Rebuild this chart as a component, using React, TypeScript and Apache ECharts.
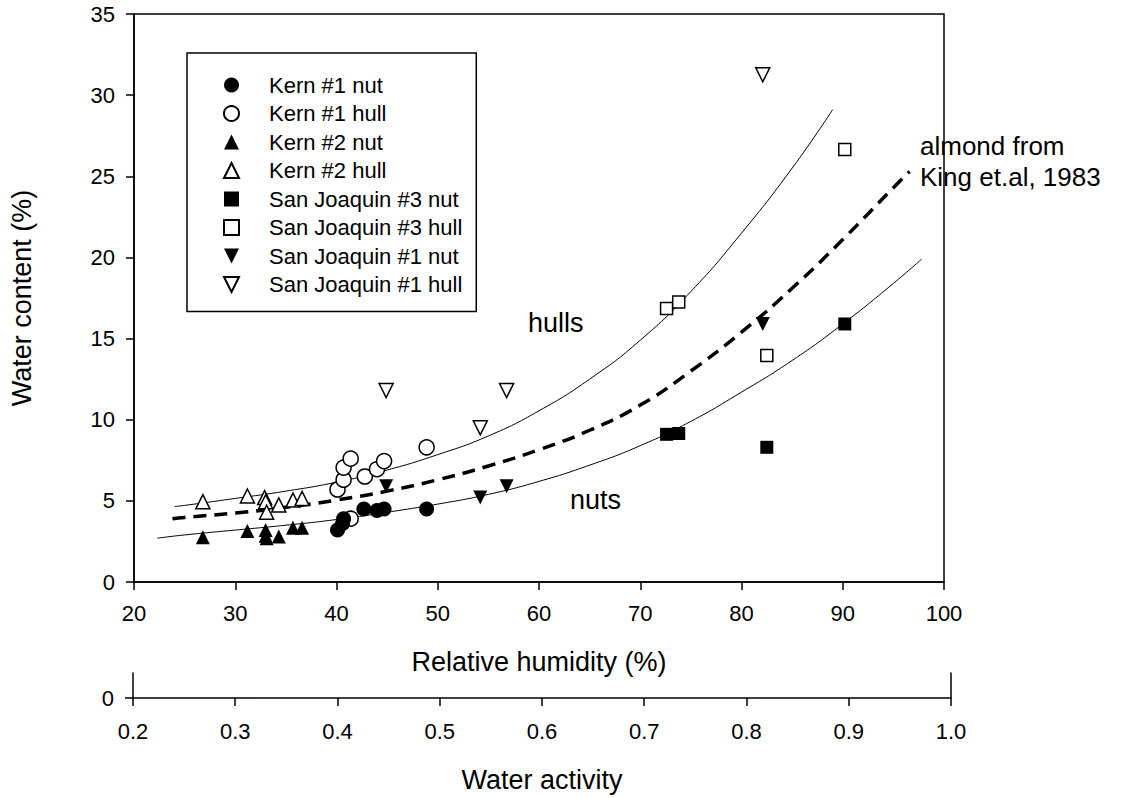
import React, { useEffect, useRef } from "react";
import * as echarts from "echarts";

// ---- data (x = relative humidity %, y = water content %) ----
const kern1Nut = [[40.1, 3.2], [40.6, 3.6], [40.7, 3.9], [42.7, 4.5], [44.0, 4.4], [44.7, 4.5], [48.9, 4.5]];
const kern1Hull = [[40.1, 5.7], [40.7, 6.3], [40.7, 7.05], [41.4, 7.6], [41.4, 3.9], [42.8, 6.5], [44.0, 6.95], [44.7, 7.45], [48.9, 8.3]];
const kern2Nut = [[26.8, 2.75], [31.2, 3.15], [33.0, 3.2], [33.0, 2.85], [33.1, 2.7], [34.3, 2.8], [35.7, 3.35], [36.6, 3.35]];
const kern2Hull = [[26.8, 4.95], [31.2, 5.3], [32.9, 5.2], [33.0, 4.95], [33.1, 4.3], [34.3, 4.75], [35.7, 5.05], [36.6, 5.15]];
const sj3Nut = [[72.6, 9.1], [73.8, 9.15], [82.5, 8.3], [90.2, 15.9]];
const sj3Hull = [[72.6, 16.85], [73.8, 17.25], [82.5, 13.95], [90.2, 26.65]];
const sj1Nut = [[44.9, 5.9], [54.2, 5.2], [56.8, 5.9], [82.1, 15.9]];
const sj1Hull = [[44.9, 11.8], [54.2, 9.5], [56.8, 11.8], [82.1, 31.25]];

// fitted curves
const hullCurve = [[24, 4.65], [25, 4.72], [30, 5.15], [35, 5.6], [40, 6.15], [45, 6.9], [50, 7.85], [55, 9.0], [60, 10.55], [65, 12.5], [70, 14.9], [75, 17.9], [80, 21.5], [85, 25.5], [89, 29.1]];
const nutCurve = [[22.3, 2.7], [25, 2.9], [30, 3.2], [35, 3.5], [40, 3.85], [45, 4.3], [50, 4.8], [55, 5.4], [60, 6.2], [65, 7.2], [70, 8.4], [75, 9.9], [80, 11.7], [85, 13.65], [90, 15.9], [95, 18.4], [97.8, 19.9]];
const kingCurve = [[23.8, 3.9], [25, 3.98], [30, 4.25], [35, 4.6], [40, 5.05], [45, 5.6], [50, 6.3], [55, 7.15], [60, 8.15], [65, 9.35], [70, 10.9], [75, 13.0], [80, 15.4], [85, 18.1], [90, 21.1], [95, 24.3], [96.6, 25.3]];

const seriesNames = [
  "Kern #1 nut",
  "Kern #1 hull",
  "Kern #2 nut",
  "Kern #2 hull",
  "San Joaquin #3 nut",
  "San Joaquin #3 hull",
  "San Joaquin #1 nut",
  "San Joaquin #1 hull",
];
const rhTicks = { min: 20, max: 100, interval: 10 };
const wcTicks = { min: 0, max: 35, interval: 5 };
const awTicks = { min: 0.2, max: 1.0, interval: 0.1 };

const FONT = "'Liberation Sans', Arial, sans-serif";
const DOWN_TRIANGLE = "path://M0,0L10,0L5,10Z";

export default function App() {
  const ref = useRef<HTMLDivElement>(null);
  useEffect(() => {
    if (!ref.current) return;
    const chart = echarts.init(ref.current, null, { renderer: "svg" });
    const mk = (name: string, data: number[][], symbol: string, filled: boolean, size: number) => ({
      name,
      type: "scatter",
      xAxisIndex: 0,
      yAxisIndex: 0,
      data,
      symbol,
      symbolSize: size,
      itemStyle: {
        color: filled ? "#000" : "#fff",
        borderColor: "#000",
        borderWidth: filled ? 0 : 1.5,
        opacity: 1,
      },
      z: filled ? 4 : 3,
    });
    const curve = (name: string, data: number[][], dashed: boolean) => ({
      name,
      type: "line",
      xAxisIndex: 0,
      yAxisIndex: 0,
      data,
      smooth: true,
      showSymbol: false,
      symbol: "none",
      lineStyle: dashed
        ? { color: "#000", width: 3.5, type: [13, 8] }
        : { color: "#000", width: 1 },
      z: 2,
    });
    const legendData = seriesNames.map((n, i) => (i >= 6 ? { name: n, icon: DOWN_TRIANGLE } : { name: n }));
    chart.setOption({
      animation: false,
      textStyle: { fontFamily: FONT, color: "#000" },
      grid: [
        { left: 133, top: 14, width: 811, height: 568, show: true, borderColor: "#000", borderWidth: 1.5, backgroundColor: "transparent" },
        { left: 133, top: 673, width: 818, height: 25 },
      ],
      xAxis: [
        {
          gridIndex: 0,
          type: "value",
          ...rhTicks,
          name: "Relative humidity (%)",
          nameLocation: "middle",
          nameGap: 66,
          nameTextStyle: { fontSize: 27, color: "#000", fontFamily: FONT },
          axisLine: { show: true, lineStyle: { color: "#000", width: 1.5 } },
          axisTick: { show: true, inside: false, length: 8, lineStyle: { color: "#000", width: 1.5 } },
          axisLabel: { fontSize: 22, color: "#000", margin: 20, fontFamily: FONT },
          splitLine: { show: false },
        },
        {
          gridIndex: 1,
          type: "value",
          ...awTicks,
          name: "Water activity",
          nameLocation: "middle",
          nameGap: 68,
          nameTextStyle: { fontSize: 27, color: "#000", fontFamily: FONT },
          axisLine: { show: true, lineStyle: { color: "#000", width: 1.5 } },
          axisTick: { show: true, inside: false, length: 8, lineStyle: { color: "#000", width: 1.5 } },
          axisLabel: { fontSize: 22, color: "#000", margin: 22, fontFamily: FONT, formatter: (v: number) => v.toFixed(1) },
          splitLine: { show: false },
        },
      ],
      yAxis: [
        {
          gridIndex: 0,
          type: "value",
          ...wcTicks,
          name: "Water content (%)",
          nameLocation: "middle",
          nameGap: 99,
          nameTextStyle: { fontSize: 27, color: "#000", fontFamily: FONT },
          axisLine: { show: true, lineStyle: { color: "#000", width: 1.5 } },
          axisTick: { show: true, inside: false, length: 8, lineStyle: { color: "#000", width: 1.5 } },
          axisLabel: { fontSize: 22, color: "#000", margin: 19, fontFamily: FONT },
          splitLine: { show: false },
        },
        {
          gridIndex: 1,
          type: "value",
          min: 0,
          max: 1,
          interval: 1,
          axisLine: { show: true, lineStyle: { color: "#000", width: 1.5 } },
          axisTick: { show: true, inside: false, length: 8, customValues: [0], lineStyle: { color: "#000", width: 1.5 } },
          axisLabel: { fontSize: 22, color: "#000", margin: 19, fontFamily: FONT, customValues: [0], formatter: (v: number) => (v === 0 ? "0" : "") },
          splitLine: { show: false },
        },
        {
          gridIndex: 1,
          type: "value",
          position: "right",
          min: 0,
          max: 1,
          interval: 1,
          axisLine: { show: true, onZero: false, lineStyle: { color: "#000", width: 1.5 } },
          axisTick: { show: false },
          axisLabel: { show: false },
          splitLine: { show: false },
        },
      ],
      legend: {
        data: legendData,
        orient: "vertical",
        left: 187,
        top: 53,
        padding: [21, 14, 16, 36],
        itemGap: 6.5,
        itemWidth: 15,
        itemHeight: 15,
        borderColor: "#000",
        borderWidth: 1.5,
        backgroundColor: "#fff",
        textStyle: { fontSize: 22, color: "#000", fontFamily: FONT, padding: [0, 0, 0, 25] },
        selectedMode: false,
      },
      graphic: [
        { type: "text", left: 528, top: 309, style: { text: "hulls", fontSize: 27, fill: "#000", fontFamily: FONT } },
        { type: "text", left: 570, top: 486, style: { text: "nuts", fontSize: 27, fill: "#000", fontFamily: FONT } },
        { type: "text", left: 920, top: 130, style: { text: "almond from\nKing et.al, 1983", fontSize: 26, lineHeight: 31, fill: "#000", fontFamily: FONT } },
      ],
      series: [
        curve("hull fit", hullCurve, false),
        curve("nut fit", nutCurve, false),
        curve("King et al. 1983", kingCurve, true),
        mk(seriesNames[1], kern1Hull, "circle", false, 15),
        mk(seriesNames[0], kern1Nut, "circle", true, 15),
        mk(seriesNames[3], kern2Hull, "triangle", false, 14),
        mk(seriesNames[2], kern2Nut, "triangle", true, 14),
        mk(seriesNames[5], sj3Hull, "rect", false, 12),
        mk(seriesNames[4], sj3Nut, "rect", true, 13),
        mk(seriesNames[7], sj1Hull, DOWN_TRIANGLE, false, 14),
        mk(seriesNames[6], sj1Nut, DOWN_TRIANGLE, true, 14),
      ],
    });
    return () => chart.dispose();
  }, []);
  return (
    <div
      ref={ref}
      style={{ position: "absolute", left: 0, top: 0, width: 1141, height: 798, background: "#fff" }}
    />
  );
}
